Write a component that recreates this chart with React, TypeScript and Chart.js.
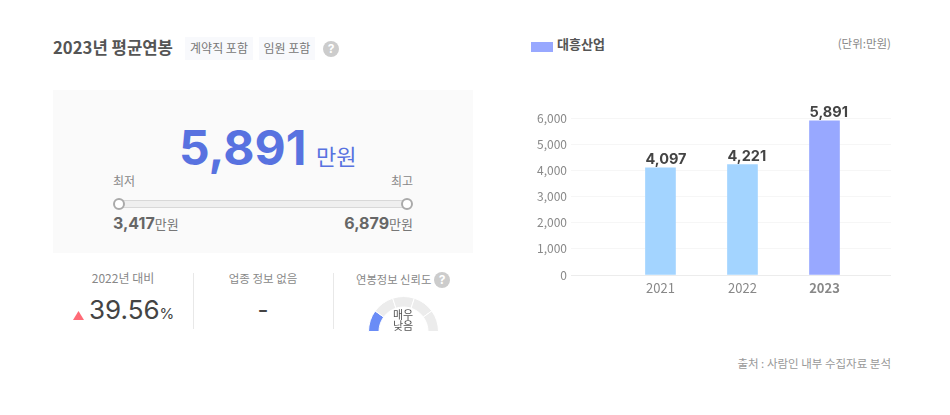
import React, { useEffect, useRef } from 'react';
import { Chart, registerables } from 'chart.js';

Chart.register(...registerables);

const years = [2021, 2022, 2023];
const salaries = [4097, 4221, 5891];
const barColors = ['#a3d4ff', '#a3d4ff', '#98a8ff'];
const gaugeSegments = [1, 1, 1, 1, 1];
const gaugeColors = ['#6a8cf6', '#ececec', '#ececec', '#ececec', '#ececec'];

const KR = '"Noto Sans CJK KR", "Noto Sans", sans-serif';
const LATIN = 'Inter, "Noto Sans CJK KR", sans-serif';

// value labels sit on the bar's left edge like the original
const valueLabels = {
  id: 'valueLabels',
  afterDatasetsDraw(chart: Chart) {
    const ctx = chart.ctx;
    const meta = chart.getDatasetMeta(0);
    ctx.save();
    ctx.font = `700 14.5px ${LATIN}`;
    ctx.fillStyle = '#444444';
    ctx.textAlign = 'left';
    ctx.textBaseline = 'alphabetic';
    meta.data.forEach((bar: any, i: number) => {
      ctx.fillText(salaries[i].toLocaleString('en-US'), bar.x - 15, bar.y - 4);
    });
    ctx.restore();
  },
};

const BarPanel: React.FC = () => {
  const chartRef = useRef<HTMLCanvasElement>(null);

  useEffect(() => {
    if (!chartRef.current) return;
    const chart = new Chart(chartRef.current, {
      type: 'bar',
      data: {
        datasets: [
          {
            data: years.map((y, i) => ({ x: y, y: salaries[i] })),
            backgroundColor: barColors,
            barThickness: 30,
          },
        ],
      },
      options: {
        animation: false,
        responsive: true,
        maintainAspectRatio: false,
        layout: { padding: { top: 28 } },
        plugins: { legend: { display: false }, tooltip: { enabled: false } },
        scales: {
          x: {
            type: 'linear',
            offset: false,
            min: 2019.909,
            max: 2023.811,
            grid: { display: false },
            border: { display: false },
            afterFit: (scale: any) => {
              scale.height = 25;
            },
            ticks: {
              stepSize: 1,
              includeBounds: false,
              maxRotation: 0,
              padding: -3,
              color: '#888888',
              font: (c: any) => ({
                family: KR,
                size: 13,
                weight: c.tick && c.tick.value === 2023 ? 700 : 400,
              }),
              callback: (v: any) => (years.includes(v) ? String(v) : null),
            },
          },
          y: {
            min: 0,
            max: 6000,
            grid: {
              drawTicks: false,
              lineWidth: 1,
              color: (c: any) => (c.tick && c.tick.value === 0 ? '#ececec' : '#f6f6f6'),
            },
            border: { display: false },
            afterFit: (scale: any) => {
              scale.width = 51;
            },
            ticks: {
              stepSize: 1000,
              padding: 4,
              color: '#888888',
              font: { family: KR, size: 12 },
              callback: (v: any) => Number(v).toLocaleString('en-US'),
            },
          },
        },
      },
      plugins: [valueLabels],
    });
    return () => chart.destroy();
  }, []);

  return (
    <div style={{ position: 'absolute', left: 520, top: 90, width: 371, height: 210 }}>
      <canvas ref={chartRef} />
    </div>
  );
};

const Gauge: React.FC = () => {
  const chartRef = useRef<HTMLCanvasElement>(null);

  useEffect(() => {
    if (!chartRef.current) return;
    const chart = new Chart(chartRef.current, {
      type: 'doughnut',
      data: {
        datasets: [
          {
            data: gaugeSegments,
            backgroundColor: gaugeColors,
            borderColor: '#ffffff',
            borderWidth: 1,
          },
        ],
      },
      options: {
        animation: false,
        responsive: true,
        maintainAspectRatio: false,
        rotation: -90,
        circumference: 180,
        cutout: '70%',
        plugins: { legend: { display: false }, tooltip: { enabled: false } },
      },
    });
    return () => chart.destroy();
  }, []);

  return (
    <div style={{ position: 'absolute', left: 367, top: 296, width: 73, height: 36 }}>
      <canvas ref={chartRef} />
    </div>
  );
};

type TextProps = {
  x: number;
  y: number; // vertical centre of the line
  w?: number;
  align?: 'left' | 'right' | 'center';
  size: number;
  color: string;
  weight?: number;
  font?: string;
  children: React.ReactNode;
};

const Text: React.FC<TextProps> = ({ x, y, w = 200, align = 'left', size, color, weight = 400, font = KR, children }) => {
  const left = align === 'left' ? x : align === 'right' ? x - w : x - w / 2;
  return (
    <div
      style={{
        position: 'absolute',
        left,
        top: y - 15,
        width: w,
        height: 30,
        lineHeight: '30px',
        textAlign: align,
        fontSize: size,
        color,
        fontWeight: weight,
        fontFamily: font,
        whiteSpace: 'nowrap',
      }}
    >
      {children}
    </div>
  );
};

const Box: React.FC<{ x: number; y: number; w: number; h: number; style?: React.CSSProperties }> = ({ x, y, w, h, style }) => (
  <div style={{ position: 'absolute', left: x, top: y, width: w, height: h, boxSizing: 'border-box', ...style }} />
);

const Help: React.FC<{ cx: number; cy: number }> = ({ cx, cy }) => (
  <div
    style={{
      position: 'absolute',
      left: cx - 8,
      top: cy - 8,
      width: 16,
      height: 16,
      borderRadius: 8,
      background: '#cccccc',
      color: '#ffffff',
      fontSize: 12,
      fontWeight: 700,
      fontFamily: LATIN,
      lineHeight: '16px',
      textAlign: 'center',
    }}
  >
    ?
  </div>
);

export default function App() {
  return (
    <div style={{ position: 'absolute', left: 0, top: 0, width: 950, height: 415, background: '#ffffff', overflow: 'hidden' }}>
      <Text x={53} y={47} size={16.7} weight={700} color="#555555">2023년 평균연봉</Text>
      <Box x={185} y={37} w={68} h={23} style={{ background: '#f8f9fc' }} />
      <Text x={219} y={48} align="center" size={12} color="#777777">계약직 포함</Text>
      <Box x={259} y={37} w={56} h={23} style={{ background: '#f8f9fc' }} />
      <Text x={287} y={48} align="center" size={12} color="#777777">임원 포함</Text>
      <Help cx={331} cy={49} />

      <Box x={53} y={90} w={420} h={163} style={{ background: '#fafafa' }} />
      <Text x={179} y={148} size={48} weight={700} font={LATIN} color="#5872e0">5,891</Text>
      <Text x={316} y={155} size={22} color="#5872e0">만원</Text>
      <Text x={113} y={181} size={12} color="#888888">최저</Text>
      <Text x={413} y={181} align="right" size={12} color="#888888">최고</Text>
      <Box x={115} y={200} w={296} h={8} style={{ background: '#efefef', border: '1px solid #d8d8d8' }} />
      <Box x={113} y={198} w={12} h={12} style={{ background: '#ffffff', border: '2px solid #aaaaaa', borderRadius: 6 }} />
      <Box x={401} y={198} w={12} h={12} style={{ background: '#ffffff', border: '2px solid #aaaaaa', borderRadius: 6 }} />
      <Text x={113} y={223} size={16} weight={700} font={LATIN} color="#666666">
        3,417<span style={{ fontSize: 13, fontWeight: 400, fontFamily: KR, color: '#777777' }}>만원</span>
      </Text>
      <Text x={413} y={223} align="right" size={16} weight={700} font={LATIN} color="#666666">
        6,879<span style={{ fontSize: 13, fontWeight: 400, fontFamily: KR, color: '#777777' }}>만원</span>
      </Text>

      <Text x={123} y={278} align="center" size={12} color="#888888">2022년 대비</Text>
      <Box x={73} y={311} w={11} h={9} style={{ background: '#ff6b77', clipPath: 'polygon(50% 0, 100% 100%, 0 100%)' }} />
      <Text x={89} y={310} size={26} font={LATIN} color="#444444">
        39.56<span style={{ fontSize: 15 }}>%</span>
      </Text>
      <Box x={193} y={273} w={1} h={56} style={{ background: '#e8e8e8' }} />
      <Text x={263} y={278} align="center" size={11.5} color="#888888">업종 정보 없음</Text>
      <Text x={263} y={310} align="center" size={24} font={LATIN} color="#444444">-</Text>
      <Box x={333} y={273} w={1} h={56} style={{ background: '#e8e8e8' }} />
      <Text x={356} y={279} size={11.3} color="#888888">연봉정보 신뢰도</Text>
      <Help cx={442} cy={280} />
      <Gauge />
      <Text x={403} y={314} align="center" size={11} color="#555555">매우</Text>
      <Text x={403} y={325} align="center" size={11} color="#555555">낮음</Text>

      <Box x={531} y={42} w={22} h={10} style={{ background: '#98a8ff' }} />
      <Text x={557} y={44} size={13} weight={700} color="#555555">대흥산업</Text>
      <Text x={891} y={43} align="right" size={11.5} color="#888888">(단위:만원)</Text>
      <BarPanel />
      <Text x={891} y={363} w={300} align="right" size={11.5} color="#999999">출처 : 사람인 내부 수집자료 분석</Text>
    </div>
  );
}
